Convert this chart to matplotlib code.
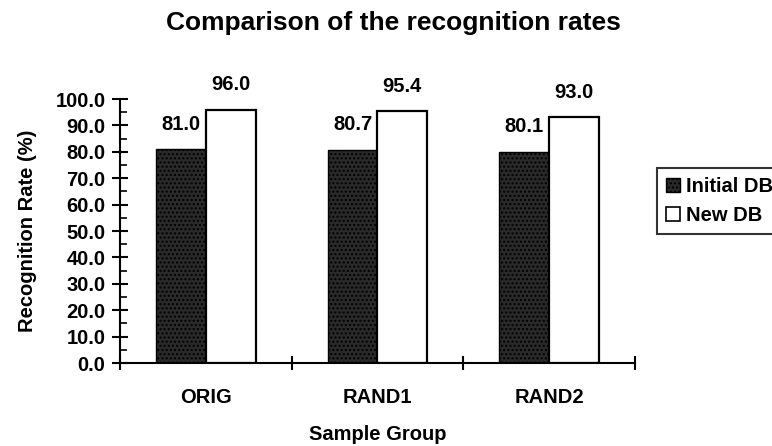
import numpy as np
import matplotlib.pyplot as plt
from matplotlib.patches import Patch
from matplotlib.ticker import MultipleLocator

plt.rcParams["font.family"] = ["Liberation Sans", "DejaVu Sans"]
plt.rcParams["font.weight"] = "bold"
plt.rcParams["hatch.color"] = "#8a8a8a"
plt.rcParams["hatch.linewidth"] = 1.0

groups = ["ORIG", "RAND1", "RAND2"]
initial_db = [81.0, 80.7, 80.1]
new_db = [96.0, 95.4, 93.0]
series_names = ["Initial DB", "New DB"]

fs = 14.5
fig = plt.figure(figsize=(7.72, 4.46), dpi=100)
ax = fig.add_axes([0.1554, 0.186, 0.667, 0.592])

x = np.arange(len(groups))
w = 0.29
b1 = ax.bar(x - w / 2, initial_db, w, color="#2a2a2a", edgecolor="black",
            hatch="....", linewidth=1.0)
b2 = ax.bar(x + w / 2, new_db, w, color="white", edgecolor="black", linewidth=1.6)

# value labels sit well above the bars, like the old Excel chart
for bars, vals in ((b1, initial_db), (b2, new_db)):
    for rect, v in zip(bars, vals):
        ax.text(rect.get_x() + rect.get_width() / 2, v + 9.5, f"{v:.1f}",
                ha="center", va="center", fontsize=fs, fontweight="bold",
                clip_on=False)

ax.set_xlim(-0.5, len(groups) - 0.5)
ax.set_ylim(0, 100)
ax.yaxis.set_major_locator(MultipleLocator(10))
ax.yaxis.set_minor_locator(MultipleLocator(5))
ax.yaxis.set_major_formatter(lambda v, p: f"{v:.1f}")
ax.tick_params(axis="y", which="major", direction="inout", length=11, width=1.5,
               labelsize=fs, pad=5)
ax.tick_params(axis="y", which="minor", direction="in", length=5, width=1.2)

ax.set_xticks(x)
ax.set_xticklabels(groups, fontsize=fs, fontweight="bold")
ax.tick_params(axis="x", which="major", length=0, pad=18)
ax.set_xticks(np.arange(len(groups) + 1) - 0.5, minor=True)
ax.tick_params(axis="x", which="minor", direction="inout", length=10, width=1.5)

for s in ["top", "right"]:
    ax.spines[s].set_visible(False)
for s in ["left", "bottom"]:
    ax.spines[s].set_linewidth(1.5)

ax.set_ylabel("Recognition Rate (%)", fontsize=fs, fontweight="bold", labelpad=13)
ax.set_xlabel("Sample Group", fontsize=fs, fontweight="bold", labelpad=13)
fig.text(0.509, 0.948, "Comparison of the recognition rates", ha="center",
         va="center", fontsize=19, fontweight="bold")

handles = [Patch(facecolor="#2a2a2a", edgecolor="black", hatch="....", label=series_names[0]),
           Patch(facecolor="white", edgecolor="black", linewidth=1.2, label=series_names[1])]
leg = fig.legend(handles=handles, loc="upper left", bbox_to_anchor=(0.851, 0.623),
                 frameon=True, fancybox=False, edgecolor="black", fontsize=fs,
                 handlelength=0.7, handleheight=0.7, handletextpad=0.3,
                 borderpad=0.45, labelspacing=0.5, borderaxespad=0)
leg.get_frame().set_linewidth(1.5)
for t in leg.get_texts():
    t.set_fontweight("bold")

fig.savefig("out.png", dpi=100)
